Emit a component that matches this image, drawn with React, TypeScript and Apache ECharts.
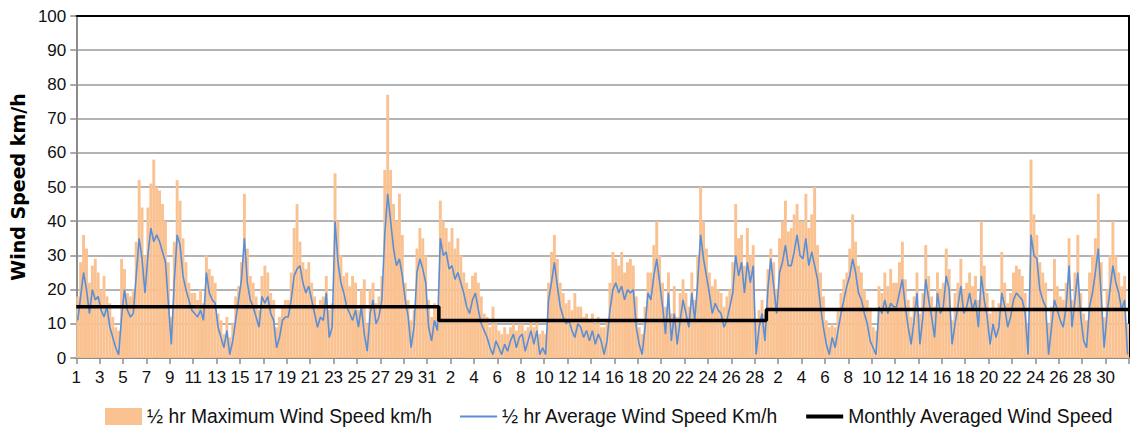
import React, { useEffect, useRef } from "react";
import * as echarts from "echarts";

// Month lengths covered by the record (days) and the monthly averages (km/h)
const monthLengths = [31, 28, 31];
const monthlyAverage = [15, 11, 14.2];
const samplesPerDay = 4;
const yTicks = { min: 0, max: 100, step: 10 };

// 1/2 hr average wind speed (km/h), sampled 4x per day
const avgSpeed = [
  11,18,25,20, 13,20,17,18, 14,12,15,9, 6,3,1,12, 20,14,12,13, 24,35,29,19, 30,38,34,36, 34,31,28,16, 4,22,36,33, 24,20,17,14,
  13,12,14,11, 25,19,17,16, 9,6,3,8, 1,5,11,17, 23,35,22,17, 15,12,9,18, 16,18,13,11, 3,6,11,12, 12,17,24,26, 27,22,19,21,
  17,13,9,12, 11,19,6,9, 40,28,22,19, 15,13,11,14, 9,15,7,2, 13,17,10,12, 17,36,48,40, 32,27,29,24, 17,12,3,9, 25,29,26,22,
  9,5,11,8, 35,30,31,26, 27,23,25,22, 19,15,13,17, 19,14,10,8, 6,3,1,5, 3,1,4,2, 5,7,3,6, 7,2,5,8, 4,8,1,3,
  1,17,22,28, 21,15,12,10, 11,8,6,10, 9,6,8,5, 8,4,7,5, 1,5,14,20, 22,19,21,17, 20,19,20,9, 4,1,9,19, 17,24,29,22,
  15,7,19,5, 13,4,11,17, 13,9,19,11, 22,36,29,24, 19,13,16,14, 13,9,11,15, 19,30,24,28, 19,28,22,27, 1,9,13,5, 20,29,21,13,
  25,28,33,27, 27,31,36,30, 29,35,27,31, 27,23,15,9, 4,1,6,3, 8,13,17,21, 24,29,25,19, 17,13,10,5, 3,1,15,13, 17,13,16,15,
  15,19,23,15, 9,4,11,19, 4,12,23,17, 12,6,19,13, 15,24,20,4, 10,15,21,13, 15,19,14,17, 9,24,17,12, 4,10,6,9, 19,15,9,12,
  17,19,18,17, 13,1,36,30, 29,20,17,15, 1,9,17,14, 11,9,15,27, 9,17,25,12, 5,3,15,19, 25,32,18,3, 13,20,27,22, 19,14,17,1,
];

// 1/2 hr maximum wind speed (km/h), sampled 4x per day
const maxSpeed = [
  18,28,36,32, 22,27,29,25, 20,24,18,16, 12,9,8,29, 26,19,18,20, 34,52,44,30, 44,51,58,50, 49,45,40,28, 12,34,52,46, 35,28,22,19,
  19,17,20,16, 30,26,24,22, 13,11,7,12, 6,10,18,21, 28,48,32,24, 22,18,14,24, 27,25,19,17, 9,12,15,17, 17,25,38,45, 34,28,26,28,
  22,18,15,17, 18,24,14,16, 54,40,30,24, 25,21,24,22, 14,20,23,10, 20,22,16,18, 24,55,77,55, 45,40,48,36, 22,17,11,14, 32,38,35,30,
  17,12,16,15, 46,40,38,34, 38,32,35,30, 25,22,20,24, 25,22,18,13, 12,9,15,10, 8,7,9,7, 9,10,8,10, 10,8,9,11, 9,11,7,8,
  7,22,31,36, 29,22,19,16, 17,14,19,15, 15,12,13,11, 13,10,12,9, 9,11,22,31, 29,27,31,25, 28,29,27,18, 9,7,15,25, 25,33,40,30,
  22,15,25,13, 21,12,19,23, 19,15,25,17, 30,50,40,32, 25,21,23,20, 19,15,18,20, 28,45,35,36, 27,38,30,33, 11,14,17,13, 26,32,28,20,
  35,40,46,37, 38,42,45,40, 40,48,38,42, 50,33,25,18, 11,9,10,9, 14,19,23,25, 32,42,34,27, 25,20,17,14, 9,8,21,19, 25,21,26,22,
  22,28,34,23, 17,12,18,25, 13,19,33,24, 18,15,25,20, 22,32,26,11, 19,22,29,20, 22,25,21,24, 17,40,27,19, 13,17,14,16, 31,22,16,19,
  25,27,26,24, 19,10,58,42, 36,28,25,22, 10,15,29,21, 18,17,22,35, 17,25,36,19, 13,11,25,30, 35,48,28,12, 20,30,40,30, 25,21,24,10,
];

const seriesNames = [
  "½ hr Maximum Wind Speed km/h",
  "½ hr Average Wind Speed Km/h",
  "Monthly Averaged Wind Speed",
];

const labelFont = "'Liberation Sans', Arial, sans-serif";

export default function App() {
  const ref = useRef<HTMLDivElement>(null);

  useEffect(() => {
    const chart = echarts.init(ref.current!, null, { renderer: "svg" });
    const totalDays = monthLengths.reduce((a, b) => a + b, 0);
    const tOf = (i: number) => (i + 0.5) / samplesPerDay;
    const maxData = maxSpeed.map((v, i) => [tOf(i), v]);
    const avgData = avgSpeed.map((v, i) => [tOf(i), v]);
    const monthly: number[][] = [];
    let start = 0;
    monthLengths.forEach((len, m) => {
      monthly.push([start, monthlyAverage[m]]);
      monthly.push([start + len, monthlyAverage[m]]);
      start += len;
    });
    const dayLabel = (v: number) => {
      let d = Math.round(v);
      for (const len of monthLengths) {
        if (d < len) return String(d + 1);
        d -= len;
      }
      return "";
    };

    chart.setOption({
      animation: false,
      backgroundColor: "#ffffff",
      grid: { left: 72, right: 1, top: 16, bottom: 74, containLabel: false },
      legend: {
        left: 100,
        top: 402,
        itemWidth: 37,
        itemHeight: 17,
        itemGap: 28,
        textStyle: { fontFamily: labelFont, fontSize: 19.3, color: "#111" },
        data: [
          { name: seriesNames[0], icon: "rect" },
          { name: seriesNames[1], icon: "path://M0,0H37V2H0Z" },
          { name: seriesNames[2], icon: "path://M0,0H37V4H0Z" },
        ],
      },
      xAxis: [
        {
          type: "value",
          min: 0,
          max: totalDays,
          interval: 2,
          axisLine: { show: true, lineStyle: { color: "#8c8c8c", width: 2 } },
          axisTick: { show: true, length: 6, inside: false, lineStyle: { color: "#8c8c8c", width: 1.5 } },
          splitLine: { show: false },
          axisLabel: {
            margin: 11,
            fontFamily: labelFont,
            fontSize: 17,
            color: "#111",
            formatter: (v: number) => dayLabel(v),
          },
        },
        {
          type: "value",
          position: "top",
          min: 0,
          max: totalDays,
          axisLine: { show: true, onZero: false, lineStyle: { color: "#000", width: 2 } },
          axisTick: { show: false },
          axisLabel: { show: false },
          splitLine: { show: false },
        },
      ],
      yAxis: [
        {
          type: "value",
          min: yTicks.min,
          max: yTicks.max,
          interval: yTicks.step,
          name: "Wind Speed km/h",
          nameLocation: "middle",
          nameGap: 27,
          nameTextStyle: { fontFamily: "'DejaVu Sans', sans-serif", fontWeight: "bold", fontSize: 19, color: "#000" },
          axisLine: { show: true, lineStyle: { color: "#8c8c8c", width: 2 } },
          axisTick: { show: true, length: 6, inside: false, lineStyle: { color: "#8c8c8c", width: 1.5 } },
          splitLine: { show: true, lineStyle: { color: "#9a9a9a", width: 1.5 } },
          axisLabel: { margin: 10, fontFamily: labelFont, fontSize: 17, color: "#111" },
        },
        {
          type: "value",
          position: "right",
          min: yTicks.min,
          max: yTicks.max,
          axisLine: { show: true, onZero: false, lineStyle: { color: "#000", width: 2 } },
          axisTick: { show: false },
          axisLabel: { show: false },
          splitLine: { show: false },
        },
      ],
      series: [
        {
          name: seriesNames[0],
          type: "bar",
          xAxisIndex: 0,
          yAxisIndex: 0,
          barWidth: 2.9,
          itemStyle: { color: "#FAC191" },
          data: maxData,
          z: 2,
        },
        {
          name: seriesNames[1],
          type: "line",
          xAxisIndex: 0,
          yAxisIndex: 0,
          showSymbol: false,
          symbol: "none",
          lineStyle: { color: "#5A8FD6", width: 1.6 },
          itemStyle: { color: "#5A8FD6" },
          data: avgData,
          z: 3,
        },
        {
          name: seriesNames[2],
          type: "line",
          xAxisIndex: 0,
          yAxisIndex: 0,
          showSymbol: false,
          symbol: "none",
          lineStyle: { color: "#000", width: 3.5 },
          itemStyle: { color: "#000" },
          data: monthly,
          z: 4,
        },
      ],
    });

    return () => chart.dispose();
  }, []);

  return (
    <div
      ref={ref}
      style={{ position: "absolute", left: 0, top: 0, width: 1132, height: 432 }}
    />
  );
}
